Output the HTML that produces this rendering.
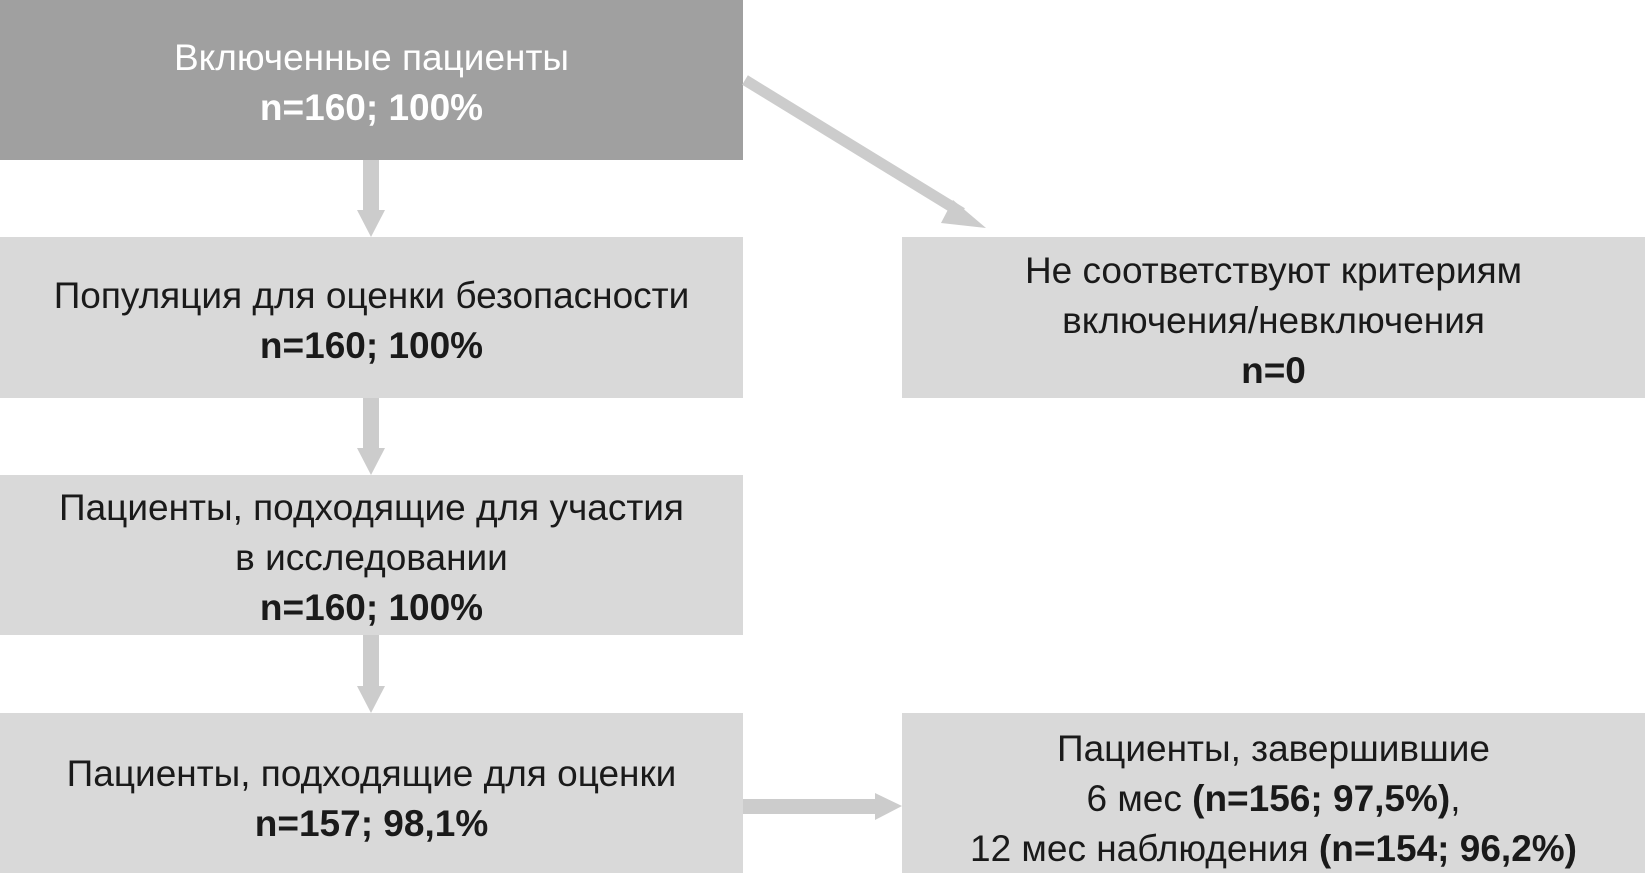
<!DOCTYPE html>
<html><head><meta charset="utf-8"><style>
body{margin:0;width:1645px;height:873px;background:#fff;position:relative;overflow:hidden;font-family:"Liberation Sans","DejaVu Sans",sans-serif;}
.b{position:absolute;background:#d9d9d9;display:flex;flex-direction:column;justify-content:center;align-items:center;text-align:center;font-size:37px;line-height:50px;color:#1a1a1a;padding-top:6px;box-sizing:border-box;}
.top{background:#a0a0a0;color:#fff;}
b{font-weight:bold;}
svg{position:absolute;left:0;top:0;}
</style></head><body>
<div class="b top" style="left:0;top:0;width:743px;height:160px;"><div>Включенные пациенты</div><div><b>n=160; 100%</b></div></div>
<div class="b" style="left:0;top:237px;width:743px;height:161px;"><div>Популяция для оценки безопасности</div><div><b>n=160; 100%</b></div></div>
<div class="b" style="left:0;top:475px;width:743px;height:160px;"><div>Пациенты, подходящие для участия</div><div>в исследовании</div><div><b>n=160; 100%</b></div></div>
<div class="b" style="left:0;top:713px;width:743px;height:160px;padding-top:12px;"><div>Пациенты, подходящие для оценки</div><div><b>n=157; 98,1%</b></div></div>
<div class="b" style="left:902px;top:237px;width:743px;height:161px;"><div>Не соответствуют критериям</div><div>включения/невключения</div><div><b>n=0</b></div></div>
<div class="b" style="left:902px;top:713px;width:743px;height:160px;padding-top:12px;"><div>Пациенты, завершившие</div><div>6 мес <b>(n=156; 97,5%)</b>,</div><div>12 мес наблюдения <b>(n=154; 96,2%)</b></div></div>
<svg width="1645" height="873">
<g fill="#cccccc">
<rect x="363" y="160" width="16" height="51"/><polygon points="357,210 385,210 371,237"/>
<rect x="363" y="398" width="16" height="51"/><polygon points="357,448 385,448 371,475"/>
<rect x="363" y="635" width="16" height="52"/><polygon points="357,686 385,686 371,713"/>
<rect x="743" y="799" width="133" height="15"/><polygon points="875,793 875,820 902,806"/>
</g>
<line x1="745" y1="80" x2="962" y2="213" stroke="#cccccc" stroke-width="11"/>
<polygon points="953,200 986,228 941,223" fill="#cccccc"/>
</svg>
</body></html>
